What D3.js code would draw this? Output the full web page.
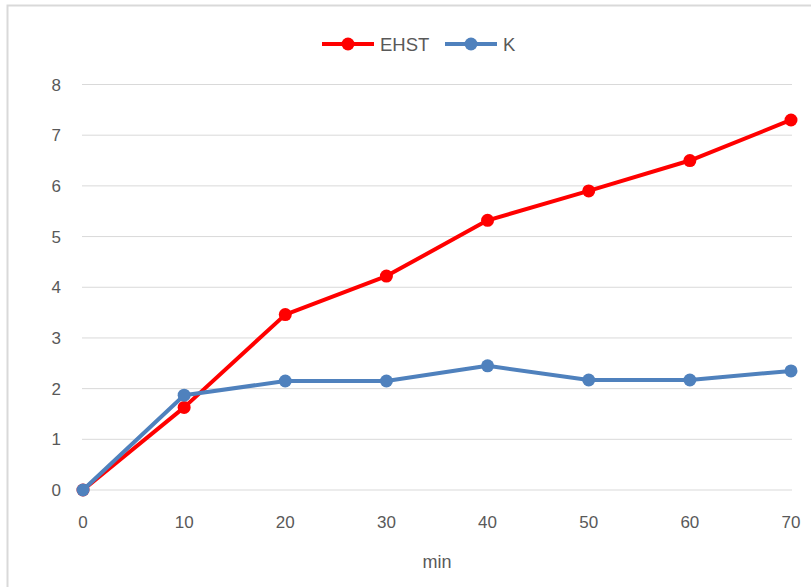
<!DOCTYPE html>
<html>
<head>
<meta charset="utf-8">
<script src="https://cdn.jsdelivr.net/npm/d3@7"></script>
<style>
  body { margin: 0; background: #fff; }
  text { font-family: "Liberation Sans", "DejaVu Sans", sans-serif; fill: #595959; }
</style>
</head>
<body>
<div id="wrapper"></div>
<script>
const minutes = [0, 10, 20, 30, 40, 50, 60, 70];
const ehst = [0, 1.63, 3.46, 4.22, 5.32, 5.9, 6.5, 7.3];
const k = [0, 1.87, 2.15, 2.15, 2.45, 2.17, 2.17, 2.35];
const yTicks = [0, 1, 2, 3, 4, 5, 6, 7, 8];
const seriesNames = ["EHST", "K"];
const seriesColors = ["#ff0000", "#4f81bd"];

function draw() {
  const dimensions = {
    width: 811,
    height: 587,
    margin: { top: 84.5, right: 20, bottom: 97, left: 82 }
  };

  const svg = d3.select("#wrapper")
    .append("svg")
      .attr("width", dimensions.width)
      .attr("height", dimensions.height);

  // outer chart border
  svg.append("rect")
    .attr("x", 7.5)
    .attr("y", 5.5)
    .attr("width", 820)
    .attr("height", 600)
    .attr("fill", "none")
    .attr("stroke", "#d9d9d9")
    .attr("stroke-width", 2);

  const x = d3.scaleLinear()
    .domain([0, 70])
    .range([dimensions.margin.left + 1, 791]);
  const y = d3.scaleLinear()
    .domain([0, 8])
    .range([490, dimensions.margin.top]);

  // gridlines
  svg.append("g")
    .selectAll("line")
    .data(yTicks)
    .join("line")
      .attr("x1", 82)
      .attr("x2", 792)
      .attr("y1", d => y(d))
      .attr("y2", d => y(d))
      .attr("stroke", "#d9d9d9")
      .attr("stroke-width", 1);

  // y labels
  svg.append("g")
    .selectAll("text")
    .data(yTicks)
    .join("text")
      .attr("x", 61)
      .attr("y", d => y(d) + 6)
      .attr("text-anchor", "end")
      .attr("font-size", 17)
      .text(d => d);

  // x labels
  svg.append("g")
    .selectAll("text")
    .data(minutes)
    .join("text")
      .attr("x", d => x(d))
      .attr("y", 528)
      .attr("text-anchor", "middle")
      .attr("font-size", 17)
      .text(d => d);

  svg.append("text")
    .attr("x", 437)
    .attr("y", 568)
    .attr("text-anchor", "middle")
    .attr("font-size", 18)
    .text("min");

  const line = d3.line()
    .x(d => x(d[0]))
    .y(d => y(d[1]));

  const series = [ehst, k];
  series.forEach((vals, i) => {
    const pts = minutes.map((m, j) => [m, vals[j]]);
    const g = svg.append("g");
    g.append("path")
      .attr("d", line(pts))
      .attr("fill", "none")
      .attr("stroke", seriesColors[i])
      .attr("stroke-width", 4)
      .attr("stroke-linejoin", "round");
    g.selectAll("circle")
      .data(pts)
      .join("circle")
        .attr("cx", d => x(d[0]))
        .attr("cy", d => y(d[1]))
        .attr("r", 6.5)
        .attr("fill", seriesColors[i]);
  });

  // legend
  const legendX = [322, 445];
  const legend = svg.append("g");
  seriesNames.forEach((name, i) => {
    legend.append("line")
      .attr("x1", legendX[i])
      .attr("x2", legendX[i] + 52)
      .attr("y1", 44)
      .attr("y2", 44)
      .attr("stroke", seriesColors[i])
      .attr("stroke-width", 4);
    legend.append("circle")
      .attr("cx", legendX[i] + 26)
      .attr("cy", 44)
      .attr("r", 6.5)
      .attr("fill", seriesColors[i]);
    legend.append("text")
      .attr("x", legendX[i] + 58)
      .attr("y", 51)
      .attr("font-size", 18.5)
      .text(name);
  });
}
draw();
</script>
</body>
</html>
